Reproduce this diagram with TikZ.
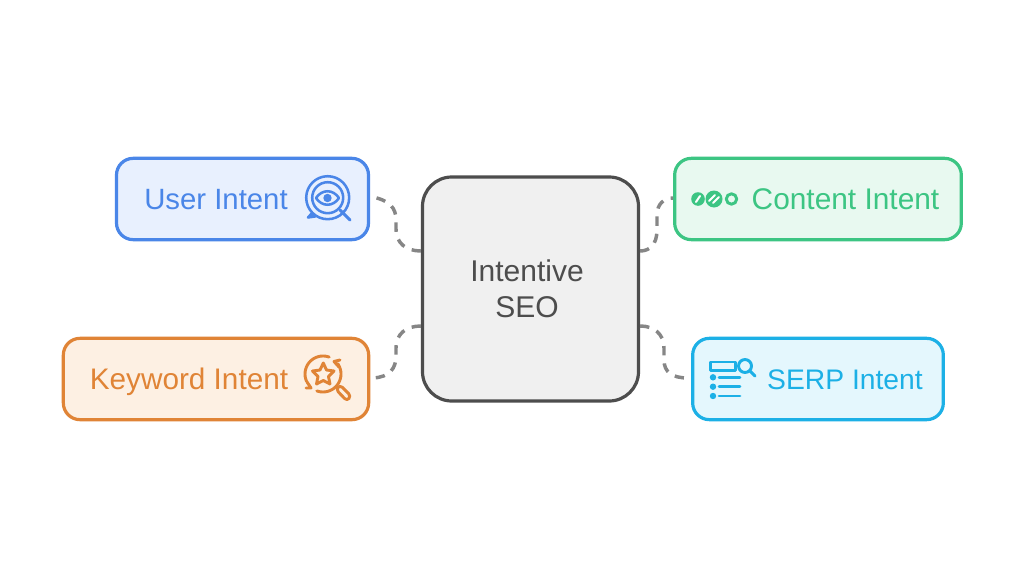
\documentclass[tikz,border=0pt]{standalone}
\usepackage{fontspec}
\setmainfont{Liberation Sans}
\usetikzlibrary{calc}
\definecolor{ublue}{HTML}{4A86E8}\definecolor{ubluef}{HTML}{E8F0FE}
\definecolor{cgreen}{HTML}{3CC583}\definecolor{cgreenf}{HTML}{E8F9F0}
\definecolor{korange}{HTML}{E08436}\definecolor{korangef}{HTML}{FDF0E3}
\definecolor{scyan}{HTML}{1CB0E6}\definecolor{scyanf}{HTML}{E4F7FD}
\definecolor{cdark}{HTML}{4D4D4D}\definecolor{cfill}{HTML}{F0F0F0}
\tikzset{
 x=0.75pt,y=-0.75pt,
 box/.style={draw,line width=2.4pt,rounded corners=12.5pt,inner sep=0,minimum height=61pt},
 lbl/.style={inner sep=0,anchor=base,font=\fontsize{#1}{26}\selectfont},
 lbl/.default=22,
 conn/.style={draw=gray!95,line width=2.6pt,dash pattern=on 7pt off 6pt,line cap=butt},
 ico/.style={line width=2.2pt,line cap=round,line join=round},
}
\begin{document}
\begin{tikzpicture}
\useasboundingbox[fill=white] (0,0) rectangle (1025,578);
\node[box,draw=cdark,fill=cfill,rounded corners=22pt,minimum width=162pt,minimum height=168pt] (center) at (530.5,289) {};
\node[inner sep=0,align=center,text=cdark,font=\fontsize{22.5}{27}\selectfont] (ct) at (527,289) {Intentive\\SEO};
\node[box,draw=ublue,fill=ubluef,minimum width=189pt] (user) at (242.5,199) {};
\node[box,draw=cgreen,fill=cgreenf,minimum width=215pt] (content) at (818,199) {};
\node[box,draw=korange,fill=korangef,minimum width=229pt] (keyword) at (216,379) {};
\node[box,draw=scyan,fill=scyanf,minimum width=188pt] (serp) at (818,379) {};
\node[lbl,text=ublue] (t1) at (216,209) {User Intent};
\node[lbl=22.4,text=cgreen] (t2) at (845.5,209) {Content Intent};
\node[lbl=22.3,text=korange] (t3) at (189,389) {Keyword Intent};
\node[lbl=21.2,text=scyan] (t4) at (845,389) {SERP Intent};
% connectors, drawn from the centre box outward
\draw[conn] ($(center.west)+(0,-38)$) .. controls (406,251) and (396,243) .. (396,229) -- (396,220) .. controls (396,208) and (390,201) .. ($(user.east)+(3,-2)$);
\draw[conn] ($(center.west)+(0,37)$) .. controls (406,326) and (396,334) .. (396,348) -- (396,356) .. controls (396,368) and (390,377) .. ($(keyword.east)+(3,-1)$);
\draw[conn] ($(center.east)+(0,-38)$) .. controls (650,251) and (657,244) .. (657,230) -- (657,215) .. controls (657,204) and (664,198) .. ($(content.west)+(0,-1)$);
\draw[conn] ($(center.east)+(0,37)$) .. controls (654,326) and (664,334) .. (664,348) -- (664,360) .. controls (664,372) and (672,378) .. ($(serp.west)+(-3,-1)$);
% user icon
\begin{scope}[ico,draw=ublue,line width=1.9pt]
\draw (327.7,197.7) circle[radius=21.5];
\draw (327.7,197.7) circle[radius=15.5];
\draw (316,198) .. controls (322,189) and (333,189) .. (339,198) .. controls (333,207) and (322,207) .. (316,198) -- cycle;
\fill[ublue] (327.5,198) circle[radius=4.2];
\draw[line width=2.3pt] (340,210) -- (350,220);
\draw[fill=ublue] (312,213) -- (308,217.5) -- (315,216.5) -- cycle;
\end{scope}
% keyword icon
\begin{scope}[ico,draw=korange]
\draw plot[domain=70:205,samples=24] ({323+18*cos(\x)},{374-18*sin(\x)});
\draw plot[domain=250:395,samples=24] ({323+18*cos(\x)},{374-18*sin(\x)});
\draw (340,360) -- (334,361.5) -- (339,367);
\draw (306,388) -- (311,388) -- (307,382);
\draw (323.3,363) -- (326.5,370) -- (334,371) -- (328.5,376.5) -- (330,384) -- (323.3,380.5) -- (316.5,384) -- (318,376.5) -- (312.5,371) -- (320,370) -- cycle;
\draw[rounded corners=2.5pt] (336,389.5) -- (340,385) -- (351,396) -- (347,401) -- cycle;
\end{scope}
% content icon
\begin{scope}[ico]
\fill[cgreen] (698,199) circle[radius=6.8];
\fill[cgreen] (714,199) circle[radius=8.5];
\draw[cgreen] (731.5,199) circle[radius=5.2];
\draw[white,line width=1.5pt] (696,202) -- (700,196);
\draw[white,line width=1.5pt] (709,201) -- (715,195);
\draw[white,line width=1.5pt] (713,203) -- (719,197);
\end{scope}
% serp icon
\begin{scope}[ico,draw=scyan]
\draw (710.5,362) rectangle (735.5,370.5);
\draw (745,366) circle[radius=6.5];
\draw (750,371) -- (755,376);
\foreach \yy in {377.3,386.7,396}{
 \fill[scyan] (713,\yy) circle[radius=3.2];
 \draw (719,\yy) -- (740,\yy);
}
\end{scope}
\end{tikzpicture}
\end{document}
